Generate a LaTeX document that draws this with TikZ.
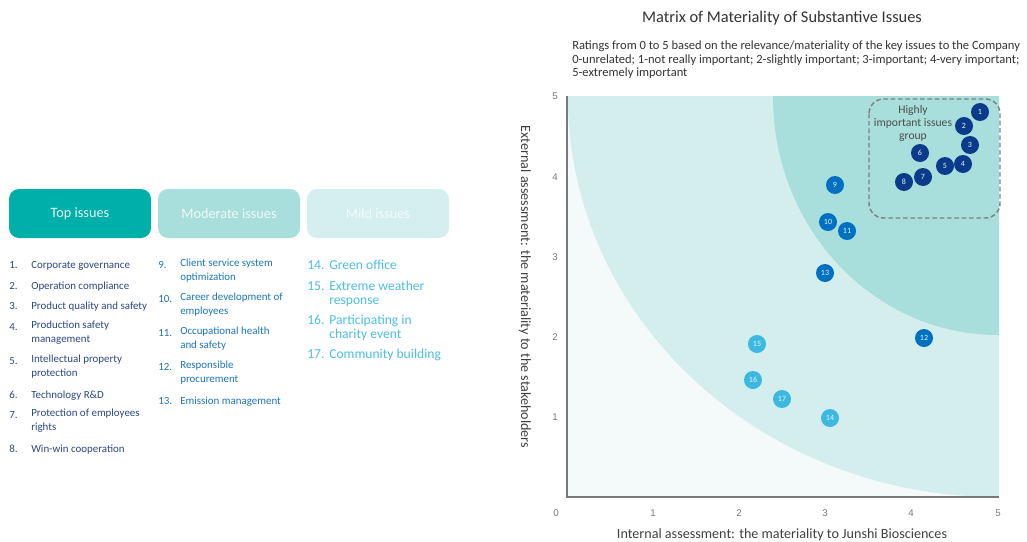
\documentclass[tikz,border=0pt]{standalone}
\usepackage{fontspec}
\setmainfont{Carlito}
\newfontfamily\tickfont{Liberation Sans}
\usepackage{xcolor}

\definecolor{topteal}{HTML}{00AFAA}
\definecolor{modteal}{HTML}{A8DFDC}
\definecolor{mildteal}{HTML}{D5EFEE}
\definecolor{plotlight}{HTML}{F4FAFA}
\definecolor{plotmid}{HTML}{D4EEEE}
\definecolor{plotdark}{HTML}{A8DFDC}
\definecolor{navyissue}{HTML}{0B3A8A}
\definecolor{blueissue}{HTML}{0070C0}
\definecolor{skyissue}{HTML}{3DB9E1}
\definecolor{navytext}{HTML}{2A4785}
\definecolor{bluetext}{HTML}{1B75BB}
\definecolor{skytext}{HTML}{4DBDE3}
\definecolor{axisgray}{HTML}{7A7A7A}

\tikzset{
  groupbox/.style={rounded corners=7.5pt, minimum width=106.5pt, minimum height=36.75pt, inner sep=0pt, font=\fontsize{10.7}{12}\selectfont},
  listnum/.style={anchor=north west, inner sep=0pt, font=\fontsize{8.2}{10.1}\selectfont, execute at begin node=\strut},
  listtxt/.style={anchor=north west, inner sep=0pt, align=left, font=\fontsize{8.2}{10.1}\selectfont, execute at begin node=\strut},
  bigtxt/.style={font=\fontsize{10.2}{10.1}\selectfont},
  dot/.style={circle, inner sep=0pt, minimum size=13.5pt, text=white!85!skyissue, font=\fontsize{6}{6}\selectfont},
  ticklab/.style={inner sep=0pt, text=axisgray, font=\tickfont\fontsize{7.3}{8}\selectfont},
  axlab/.style={inner sep=0pt, text=black!75, font=\fontsize{10.6}{12}\selectfont}
}

\begin{document}
\begin{tikzpicture}[x=0.75pt,y=0.75pt,yscale=-1,xscale=1]

\useasboundingbox (0,0) rectangle (1027,542);

% category boxes
\node [groupbox, fill=topteal, text=white!90!topteal] (top) at (80,213.5) {Top issues};
\node [groupbox, fill=modteal, text=white!80!modteal] (moderate) at (229,213.5) {Moderate issues};
\node [groupbox, fill=mildteal, text=white!70!mildteal] (mild) at (378,213.5) {Mild issues};

% top issues list
\node [listnum, text=navytext] (n1) at (9,259) {1.};
\node [listtxt, text=navytext] (t1) at (31,259) {Corporate governance};
\node [listnum, text=navytext] (n2) at (9,280) {2.};
\node [listtxt, text=navytext] (t2) at (31,280) {Operation compliance};
\node [listnum, text=navytext] (n3) at (9,300) {3.};
\node [listtxt, text=navytext] (t3) at (31,300) {Product quality and safety};
\node [listnum, text=navytext] (n4) at (9,321) {4.};
\node [listtxt, text=navytext] (t4) at (31,321) {Production safety\\management};
\node [listnum, text=navytext] (n5) at (9,355) {5.};
\node [listtxt, text=navytext] (t5) at (31,355) {Intellectual property\\protection};
\node [listnum, text=navytext] (n6) at (9,389) {6.};
\node [listtxt, text=navytext] (t6) at (31,389) {Technology R\&D};
\node [listnum, text=navytext] (n7) at (9,409) {7.};
\node [listtxt, text=navytext] (t7) at (31,409) {Protection of employees\\rights};
\node [listnum, text=navytext] (n8) at (9,443) {8.};
\node [listtxt, text=navytext] (t8) at (31,443) {Win-win cooperation};

% moderate issues list
\node [listnum, text=bluetext] (n9) at (158,259) {9.};
\node [listtxt, text=bluetext] (t9) at (180,259) {Client service system\\optimization};
\node [listnum, text=bluetext] (n10) at (158,293) {10.};
\node [listtxt, text=bluetext] (t10) at (180,293) {Career development of\\employees};
\node [listnum, text=bluetext] (n11) at (158,327) {11.};
\node [listtxt, text=bluetext] (t11) at (180,327) {Occupational health\\and safety};
\node [listnum, text=bluetext] (n12) at (158,361) {12.};
\node [listtxt, text=bluetext] (t12) at (180,361) {Responsible\\procurement};
\node [listnum, text=bluetext] (n13) at (158,395) {13.};
\node [listtxt, text=bluetext] (t13) at (180,395) {Emission management};

% mild issues list
\node [listnum, bigtxt, text=skytext] (n14) at (307,260) {14.};
\node [listtxt, bigtxt, text=skytext] (t14) at (329,260) {Green office};
\node [listnum, bigtxt, text=skytext] (n15) at (307,281) {15.};
\node [listtxt, bigtxt, text=skytext] (t15) at (329,281) {Extreme weather\\response};
\node [listnum, bigtxt, text=skytext] (n16) at (307,315) {16.};
\node [listtxt, bigtxt, text=skytext] (t16) at (329,315) {Participating in\\charity event};
\node [listnum, bigtxt, text=skytext] (n17) at (307,349) {17.};
\node [listtxt, bigtxt, text=skytext] (t17) at (329,349) {Community building};

% titles
\node [inner sep=0pt, text=black!80, font=\fontsize{12.3}{14}\selectfont] (title) at (782,18) {Matrix of Materiality of Substantive Issues};
\node [anchor=north west, inner sep=0pt, align=left, text=black!80, font=\fontsize{9.4}{10.1}\selectfont] (ratings) at (572,41) {Ratings from 0 to 5 based on the relevance/materiality of the key issues to the Company\\0-unrelated; 1-not really important; 2-slightly important; 3-important; 4-very important;\\5-extremely important};

% plot background
\fill [plotlight] (567,96) rectangle (999,497);
\begin{scope}
\clip (567,96) rectangle (999,497);
\fill [plotmid] (998,97) ellipse [x radius=430, y radius=400];
\fill [plotdark] (998,97) ellipse [x radius=225, y radius=238];
\end{scope}

% axes
\draw [axisgray, line width=1.1pt] (567,96) -- (567,497) -- (999,497);

\node [ticklab] (y5) at (555,96) {5};
\node [ticklab] (y4) at (555,177) {4};
\node [ticklab] (y3) at (555,257) {3};
\node [ticklab] (y2) at (555,337) {2};
\node [ticklab] (y1) at (555,417) {1};
\node [ticklab] (x0) at (556,513) {0};
\node [ticklab] (x1) at (653,513) {1};
\node [ticklab] (x2) at (739,513) {2};
\node [ticklab] (x3) at (825,513) {3};
\node [ticklab] (x4) at (911,513) {4};
\node [ticklab] (x5) at (998,513) {5};

\node [axlab, rotate=-90] (ylab) at (525,287) {External assessment: the materiality to the stakeholders};
\node [axlab] (xlab) at (782,535) {Internal assessment: the materiality to Junshi Biosciences};

% highly important group
\draw [black!50, line width=1.1pt, dash pattern=on 3.5pt off 2pt, rounded corners=11pt] (869,99) rectangle (1000,218);
\node [inner sep=0pt, align=center, text=black!70, font=\fontsize{8.7}{10.1}\selectfont] (grp) at (913,123.5) {Highly\\important issues\\group};

% issues
\node [dot, fill=navyissue] (i1) at (980,112) {1};
\node [dot, fill=navyissue] (i2) at (964,126) {2};
\node [dot, fill=navyissue] (i3) at (970,145) {3};
\node [dot, fill=navyissue] (i4) at (963,164) {4};
\node [dot, fill=navyissue] (i5) at (945,166) {5};
\node [dot, fill=navyissue] (i6) at (920,153) {6};
\node [dot, fill=navyissue] (i7) at (923,177) {7};
\node [dot, fill=navyissue] (i8) at (904,182) {8};
\node [dot, fill=blueissue] (i9) at (835,185) {9};
\node [dot, fill=blueissue] (i10) at (828,222) {10};
\node [dot, fill=blueissue] (i11) at (847,231) {11};
\node [dot, fill=blueissue] (i12) at (924,338) {12};
\node [dot, fill=blueissue] (i13) at (825,273) {13};
\node [dot, fill=skyissue] (i14) at (830,418) {14};
\node [dot, fill=skyissue] (i15) at (757,344) {15};
\node [dot, fill=skyissue] (i16) at (753,380) {16};
\node [dot, fill=skyissue] (i17) at (782,399) {17};

\end{tikzpicture}
\end{document}
